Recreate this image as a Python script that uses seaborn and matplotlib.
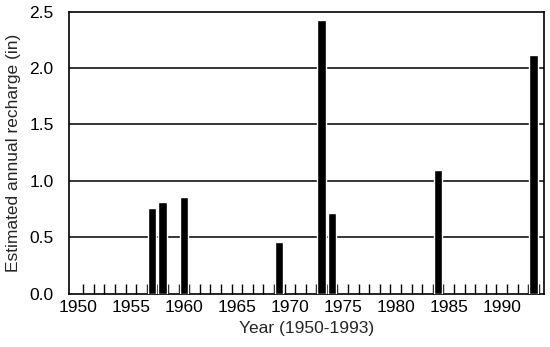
import matplotlib
matplotlib.use("Agg")
import matplotlib.pyplot as plt
import seaborn as sns
import pandas as pd
import numpy as np
from matplotlib.ticker import FixedLocator

years = [1957, 1958, 1960, 1969, 1973, 1974, 1984, 1993]
recharge = [0.76, 0.81, 0.86, 0.46, 2.43, 0.71, 1.10, 2.12]
major_years = [1950, 1955, 1960, 1965, 1970, 1975, 1980, 1985, 1990]
y_ticks = [0.0, 0.5, 1.0, 1.5, 2.0, 2.5]

sns.set_style("white")
plt.rcParams['font.family'] = ['Liberation Sans', 'DejaVu Sans']

df = pd.DataFrame({"year": years, "recharge": recharge})

fig = plt.figure(figsize=(5.5, 3.47), dpi=100)
ax = fig.add_axes([69/550, 1-293.5/347, (544-69)/550, (293.5-11.7)/347])

sns.barplot(data=df, x="year", y="recharge", native_scale=True, color="black",
            width=0.8, ax=ax, saturation=1, errorbar=None, zorder=3)

ax.set_xlim(1949.15, 1994.0)
ax.set_ylim(0, 2.5)

ax.set_xticks(major_years)
ax.set_xticklabels([str(y) for y in major_years])
ax.xaxis.set_minor_locator(FixedLocator([y + 0.5 for y in range(1950, 1994)]))
ax.tick_params(axis="x", which="major", length=0, pad=5, labelsize=12.5, colors="black")
ax.tick_params(axis="x", which="minor", length=7.5, width=1, direction="in", color="black", bottom=True)

ax.set_yticks(y_ticks)
ax.set_yticklabels([f"{v:.1f}" for v in y_ticks])
ax.tick_params(axis="y", which="major", length=0, pad=11, labelsize=12.5, colors="black")

for v in y_ticks[1:-1]:
    ax.axhline(v, color="black", linewidth=1.1, zorder=1)

for s in ax.spines.values():
    s.set_color("black")
    s.set_linewidth(1.2)

ax.set_xlabel("Year (1950-1993)", fontsize=12.5, labelpad=4)
ax.set_ylabel("Estimated annual recharge (in)", fontsize=12.5, labelpad=6)

fig.savefig("out.png", dpi=100)
